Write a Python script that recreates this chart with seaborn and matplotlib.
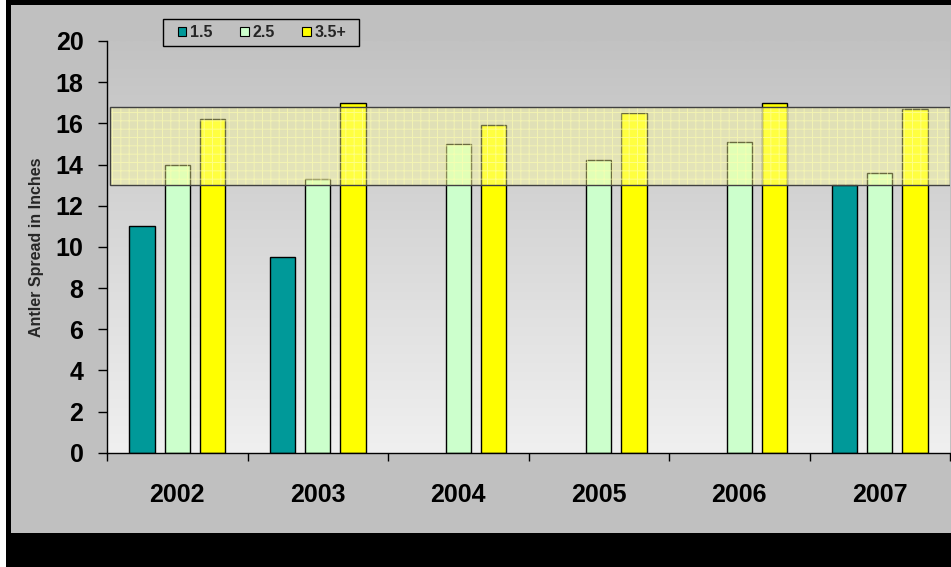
import numpy as np
import pandas as pd
import matplotlib
matplotlib.use("Agg")
import matplotlib.pyplot as plt
from matplotlib.patches import Rectangle, Patch
from matplotlib.colors import LinearSegmentedColormap
import seaborn as sns

# ---- data -------------------------------------------------------------
years = ["2002", "2003", "2004", "2005", "2006", "2007"]
age_classes = ["1.5", "2.5", "3.5+"]
spread_1_5 = [11.0, 9.5, np.nan, np.nan, np.nan, 13.0]
spread_2_5 = [14.0, 13.3, 15.0, 14.2, 15.1, 13.6]
spread_3_5 = [16.2, 17.0, 15.9, 16.5, 17.0, 16.7]
band_low, band_high = 13.0, 16.8
y_ticks = [0, 2, 4, 6, 8, 10, 12, 14, 16, 18, 20]

bar_colors = {"1.5": "#009999", "2.5": "#CCFFCC", "3.5+": "#FFFF00"}

df = pd.DataFrame({
    "Year": years * 3,
    "Age": [a for a in age_classes for _ in years],
    "Spread": spread_1_5 + spread_2_5 + spread_3_5,
}).dropna()

# ---- style ------------------------------------------------------------
sns.set_style("ticks")
plt.rcParams["font.family"] = ["Liberation Sans", "DejaVu Sans"]
plt.rcParams["font.weight"] = "bold"
plt.rcParams["hatch.linewidth"] = 0.7

W, H = 951, 567
fig = plt.figure(figsize=(W / 100, H / 100), dpi=100, facecolor="white")

# frame: black border with a gray panel
fig.patches.append(Rectangle((6 / W, 0), 945 / W, 1, transform=fig.transFigure,
                             facecolor="black", edgecolor="none", zorder=-10))
fig.patches.append(Rectangle((11 / W, 34 / H), 940 / W, 528 / H, transform=fig.transFigure,
                             facecolor="#C0C0C0", edgecolor="none", zorder=-9))

ax = fig.add_axes([107 / W, (H - 452.7) / H, 843 / W, 411.7 / H])
ax.set_facecolor("none")

# vertical gradient behind the bars
grad = np.linspace(0, 1, 256).reshape(-1, 1)
cmap = LinearSegmentedColormap.from_list("bg", ["#F0F0F0", "#C2C2C2"])
ax.imshow(grad, cmap=cmap, extent=(0, 1, 0, 1), transform=ax.transAxes,
          aspect="auto", origin="lower", zorder=0)

sns.barplot(data=df, x="Year", y="Spread", hue="Age", order=years,
            hue_order=age_classes, palette=bar_colors, width=0.75, gap=0.28,
            edgecolor="black", linewidth=1.0, saturation=1, errorbar=None,
            legend=False, ax=ax, zorder=2)

ax.set_xlim(-0.5, len(years) - 0.5)
ax.set_ylim(0, 20)

# highlighted range
x0 = -0.5 + 3 / 140.5
ax.add_patch(Rectangle((x0, band_low), 5.5 - x0, band_high - band_low,
                       facecolor="#FFFF99", alpha=0.42, edgecolor="none", zorder=3))
ax.add_patch(Rectangle((x0, band_low), 5.5 - x0, band_high - band_low,
                       fill=False, hatch="++", edgecolor="#FFFFB0", alpha=0.6,
                       linewidth=0, zorder=3))
ax.add_patch(Rectangle((x0, band_low), 5.5 - x0, band_high - band_low,
                       fill=False, edgecolor="#404040", linewidth=1.0, zorder=4))

# axes styling
for s in ["top", "right"]:
    ax.spines[s].set_visible(False)
for s in ["left", "bottom"]:
    ax.spines[s].set_color("black")
    ax.spines[s].set_linewidth(1.0)

ax.set_yticks(y_ticks)
ax.set_yticklabels([str(t) for t in y_ticks], fontsize=18, fontweight="bold")
ax.tick_params(axis="y", direction="out", length=6.5, width=1, pad=10.5, colors="black")

ax.set_xticks(range(len(years)))
ax.set_xticklabels(years, fontsize=18, fontweight="bold")
ax.set_xticks(np.arange(-0.5, len(years)), minor=True)
ax.tick_params(axis="x", which="major", length=0, pad=22, colors="black")
ax.tick_params(axis="x", which="minor", direction="out", length=6, width=1, color="black")

ax.set_xlabel("")
ax.set_ylabel("Antler Spread in Inches", fontsize=11.5, fontweight="bold")
ax.yaxis.set_label_coords(-0.0745, 0.5)

# legend: box drawn separately, entries placed inside it
fig.patches.append(Rectangle((163 / W, 1 - 46 / H), 196 / W, 27 / H,
                             transform=fig.transFigure, facecolor="#C0C0C0",
                             edgecolor="black", linewidth=1.0, zorder=5))
handles = [Patch(facecolor=bar_colors[a], edgecolor="black", linewidth=0.8) for a in age_classes]
leg = fig.legend(handles, age_classes, loc="center left",
                 bbox_to_anchor=(178 / W, 1 - 32.5 / H), bbox_transform=fig.transFigure,
                 ncol=3, frameon=False, borderaxespad=0, borderpad=0,
                 handlelength=0.52, handleheight=0.52, handletextpad=0.22,
                 columnspacing=1.75, prop={"size": 11.5, "weight": "bold"})
leg.set_zorder(6)

fig.savefig("out.png", dpi=100, facecolor=fig.get_facecolor())
